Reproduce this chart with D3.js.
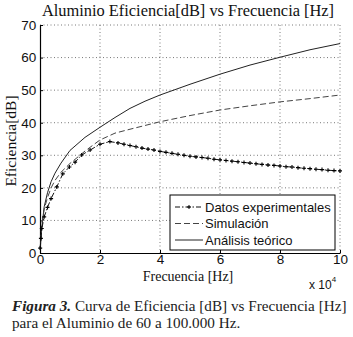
<!DOCTYPE html>
<html lang='es'>
	<head>
		<meta charset='UTF-8'>
		<title>Aluminio Eficiencia</title>
		<style>
			body { margin: 0; background: #fff; }
		</style>
	</head>
	<body>
		<svg id='graph' width='353' height='337'></svg>

		<script src='https://d3js.org/d3.v7.min.js'></script>
		<script>
			// frequency in units of 1e4 Hz, efficiency in dB
			const expX = [0.006, 0.03, 0.06, 0.14, 0.25, 0.37, 0.56, 0.76, 0.98, 1.17, 1.39, 1.67, 2.0, 2.33, 2.6, 2.8, 3.0, 3.2, 3.4, 3.6, 3.8, 4.0, 4.2, 4.4, 4.6, 4.8, 5.0, 5.2, 5.4, 5.6, 5.8, 6.0, 6.2, 6.4, 6.6, 6.8, 7.0, 7.2, 7.4, 7.6, 7.8, 8.0, 8.2, 8.4, 8.6, 8.8, 9.0, 9.2, 9.4, 9.6, 9.8, 10.0]
			const expY = [1.5, 4.5, 7.5, 11.1, 14.0, 16.7, 20.3, 24.3, 26.4, 27.9, 30.1, 31.6, 33.4, 34.2, 33.8, 33.4, 33.0, 32.6, 32.2, 31.9, 31.6, 31.2, 30.9, 30.6, 30.3, 30.0, 29.7, 29.5, 29.3, 29.1, 28.8, 28.6, 28.4, 28.2, 28.0, 27.8, 27.6, 27.4, 27.2, 27.0, 26.9, 26.7, 26.5, 26.4, 26.2, 26.0, 25.9, 25.7, 25.6, 25.4, 25.3, 25.2]

			const simX = [0.006, 0.05, 0.14, 0.25, 0.37, 0.5, 0.7, 1.0, 1.2, 1.5, 2.0, 2.5, 3.0, 4.0, 5.0, 6.0, 7.0, 8.0, 9.0, 10.0]
			const simY = [1, 8, 13.5, 17, 20, 22.3, 24.8, 27.5, 29, 31.3, 34.7, 36.8, 38, 40.3, 42.2, 43.9, 45.2, 46.4, 47.4, 48.5]

			const teoX = [0.006, 0.05, 0.14, 0.25, 0.37, 0.5, 0.7, 1.0, 1.2, 1.5, 2.0, 2.5, 3.0, 3.5, 4.0, 5.0, 6.0, 7.0, 8.0, 9.0, 10.0]
			const teoY = [1, 7, 14.2, 18.5, 21.9, 24.5, 27.6, 31.5, 33.1, 35.5, 38.6, 41.6, 44.4, 46.6, 48.5, 51.8, 54.9, 57.7, 60.1, 62.4, 64.3]

			const xTicks = [0, 2, 4, 6, 8, 10]
			const yTicks = [0, 10, 20, 30, 40, 50, 60, 70]
			const legendLabels = ['Datos experimentales', 'Simulación', 'Análisis teórico']

			const svg = d3.select('#graph')
			const plotLeft = 40, plotRight = 340, plotTop = 25, plotBottom = 253

			const xScale = d3.scaleLinear().domain([0, 10]).range([plotLeft, plotRight])
			const yScale = d3.scaleLinear().domain([0, 70]).range([plotBottom, plotTop])

			// grid
			svg.append('g')
				.selectAll('line')
				.data(xTicks.slice(1))
				.enter()
				.append('line')
				.attr('x1', (d) => xScale(d)).attr('x2', (d) => xScale(d))
				.attr('y1', plotTop).attr('y2', plotBottom)
				.attr('stroke', '#555').attr('stroke-width', 0.8).attr('stroke-dasharray', '1,2.5')
			svg.append('g')
				.selectAll('line')
				.data(yTicks.slice(1))
				.enter()
				.append('line')
				.attr('x1', plotLeft).attr('x2', plotRight)
				.attr('y1', (d) => yScale(d)).attr('y2', (d) => yScale(d))
				.attr('stroke', '#555').attr('stroke-width', 0.8).attr('stroke-dasharray', '1,2.5')

			const xAxis = d3.axisBottom(xScale).tickValues(xTicks).tickSizeInner(-3).tickSizeOuter(0).tickPadding(4)
			const yAxis = d3.axisLeft(yScale).tickValues(yTicks).tickSizeInner(-3).tickSizeOuter(0).tickPadding(5)

			const gx = svg.append('g')
				.attr('transform', `translate(0, ${plotBottom})`)
				.call(xAxis)
			const gy = svg.append('g')
				.attr('transform', `translate(${plotLeft}, 0)`)
				.call(yAxis)
			for (const g of [gx, gy]) {
				g.selectAll('text').attr('font-family', 'Liberation Sans, Arial, sans-serif').attr('font-size', 13.5).attr('fill', '#111')
				g.select('.domain').attr('stroke', '#000').attr('stroke-width', 1.2)
			}
			gx.selectAll('text').attr('dy', '0.55em')
			gy.selectAll('text').attr('dx', '0.1em')

			const line = d3.line().x((d) => xScale(d[0])).y((d) => yScale(d[1]))

			const teo = d3.zip(teoX, teoY)
			const sim = d3.zip(simX, simY)
			const exp = d3.zip(expX, expY)

			svg.append('path').attr('d', line(teo)).attr('fill', 'none').attr('stroke', '#222').attr('stroke-width', 1)
			svg.append('path').attr('d', line(sim)).attr('fill', 'none').attr('stroke', '#444').attr('stroke-width', 1).attr('stroke-dasharray', '6,3')
			svg.append('path').attr('d', line(exp)).attr('fill', 'none').attr('stroke', '#111').attr('stroke-width', 1).attr('stroke-dasharray', '5,2,1.5,2')

			svg.append('g')
				.selectAll('path')
				.data(exp)
				.enter()
				.append('path')
				.attr('d', (d) => `M${xScale(d[0]) - 2},${yScale(d[1])}h4M${xScale(d[0])},${yScale(d[1]) - 2}v4`)
				.attr('stroke', '#000').attr('stroke-width', 1.1)

			// legend
			const lg = svg.append('g').attr('transform', 'translate(170, 195)')
			lg.append('rect').attr('width', 165).attr('height', 55).attr('fill', '#fff').attr('stroke', '#000').attr('stroke-width', 1)
			const styles = [
				{ dash: '5,2,1.5,2', color: '#111', marker: true },
				{ dash: '6,3', color: '#444', marker: false },
				{ dash: null, color: '#222', marker: false }
			]
			legendLabels.forEach((label, i) => {
				const y = 12 + i * 16.5
				lg.append('line').attr('x1', 5).attr('x2', 33).attr('y1', y).attr('y2', y)
					.attr('stroke', styles[i].color).attr('stroke-width', 1)
					.attr('stroke-dasharray', styles[i].dash)
				if (styles[i].marker) {
					lg.append('path').attr('d', `M17,${y}h4M19,${y - 2}v4`).attr('stroke', '#000')
				}
				lg.append('text').attr('x', 35).attr('y', y + 4.5).text(label)
					.attr('font-family', 'Liberation Sans, Arial, sans-serif').attr('font-size', 13).attr('fill', '#111')
			})

			// titles
			svg.append('text').attr('x', 188).attr('y', 16).attr('text-anchor', 'middle')
				.attr('font-family', 'Liberation Serif, Times New Roman, serif').attr('font-size', 16.4).attr('fill', '#111')
				.text('Aluminio Eficiencia[dB] vs Frecuencia [Hz]')
			svg.append('text').attr('transform', 'translate(16, 141) rotate(-90)').attr('text-anchor', 'middle')
				.attr('font-family', 'Liberation Serif, Times New Roman, serif').attr('font-size', 15.5).attr('fill', '#111')
				.text('Eficiencia[dB]')
			svg.append('text').attr('x', 188).attr('y', 281).attr('text-anchor', 'middle')
				.attr('font-family', 'Liberation Serif, Times New Roman, serif').attr('font-size', 14).attr('fill', '#111')
				.text('Frecuencia [Hz]')
			const mult = svg.append('text').attr('x', 309).attr('y', 289)
				.attr('font-family', 'Liberation Sans, Arial, sans-serif').attr('font-size', 12).attr('fill', '#111')
			mult.append('tspan').text('x 10')
			mult.append('tspan').attr('dy', -7).attr('font-size', 8).text('4')

			const cap1 = svg.append('text').attr('x', 12).attr('y', 311)
				.attr('font-family', 'Liberation Serif, Times New Roman, serif').attr('font-size', 15.2).attr('fill', '#222')
			cap1.append('tspan').attr('font-weight', 'bold').attr('font-style', 'italic').text('Figura 3.')
			cap1.append('tspan').text(' Curva de Eficiencia [dB] vs Frecuencia [Hz]')
			svg.append('text').attr('x', 12).attr('y', 328)
				.attr('font-family', 'Liberation Serif, Times New Roman, serif').attr('font-size', 15.2).attr('fill', '#222')
				.text('para el Aluminio de 60 a 100.000 Hz.')
		</script>
	</body>
</html>
